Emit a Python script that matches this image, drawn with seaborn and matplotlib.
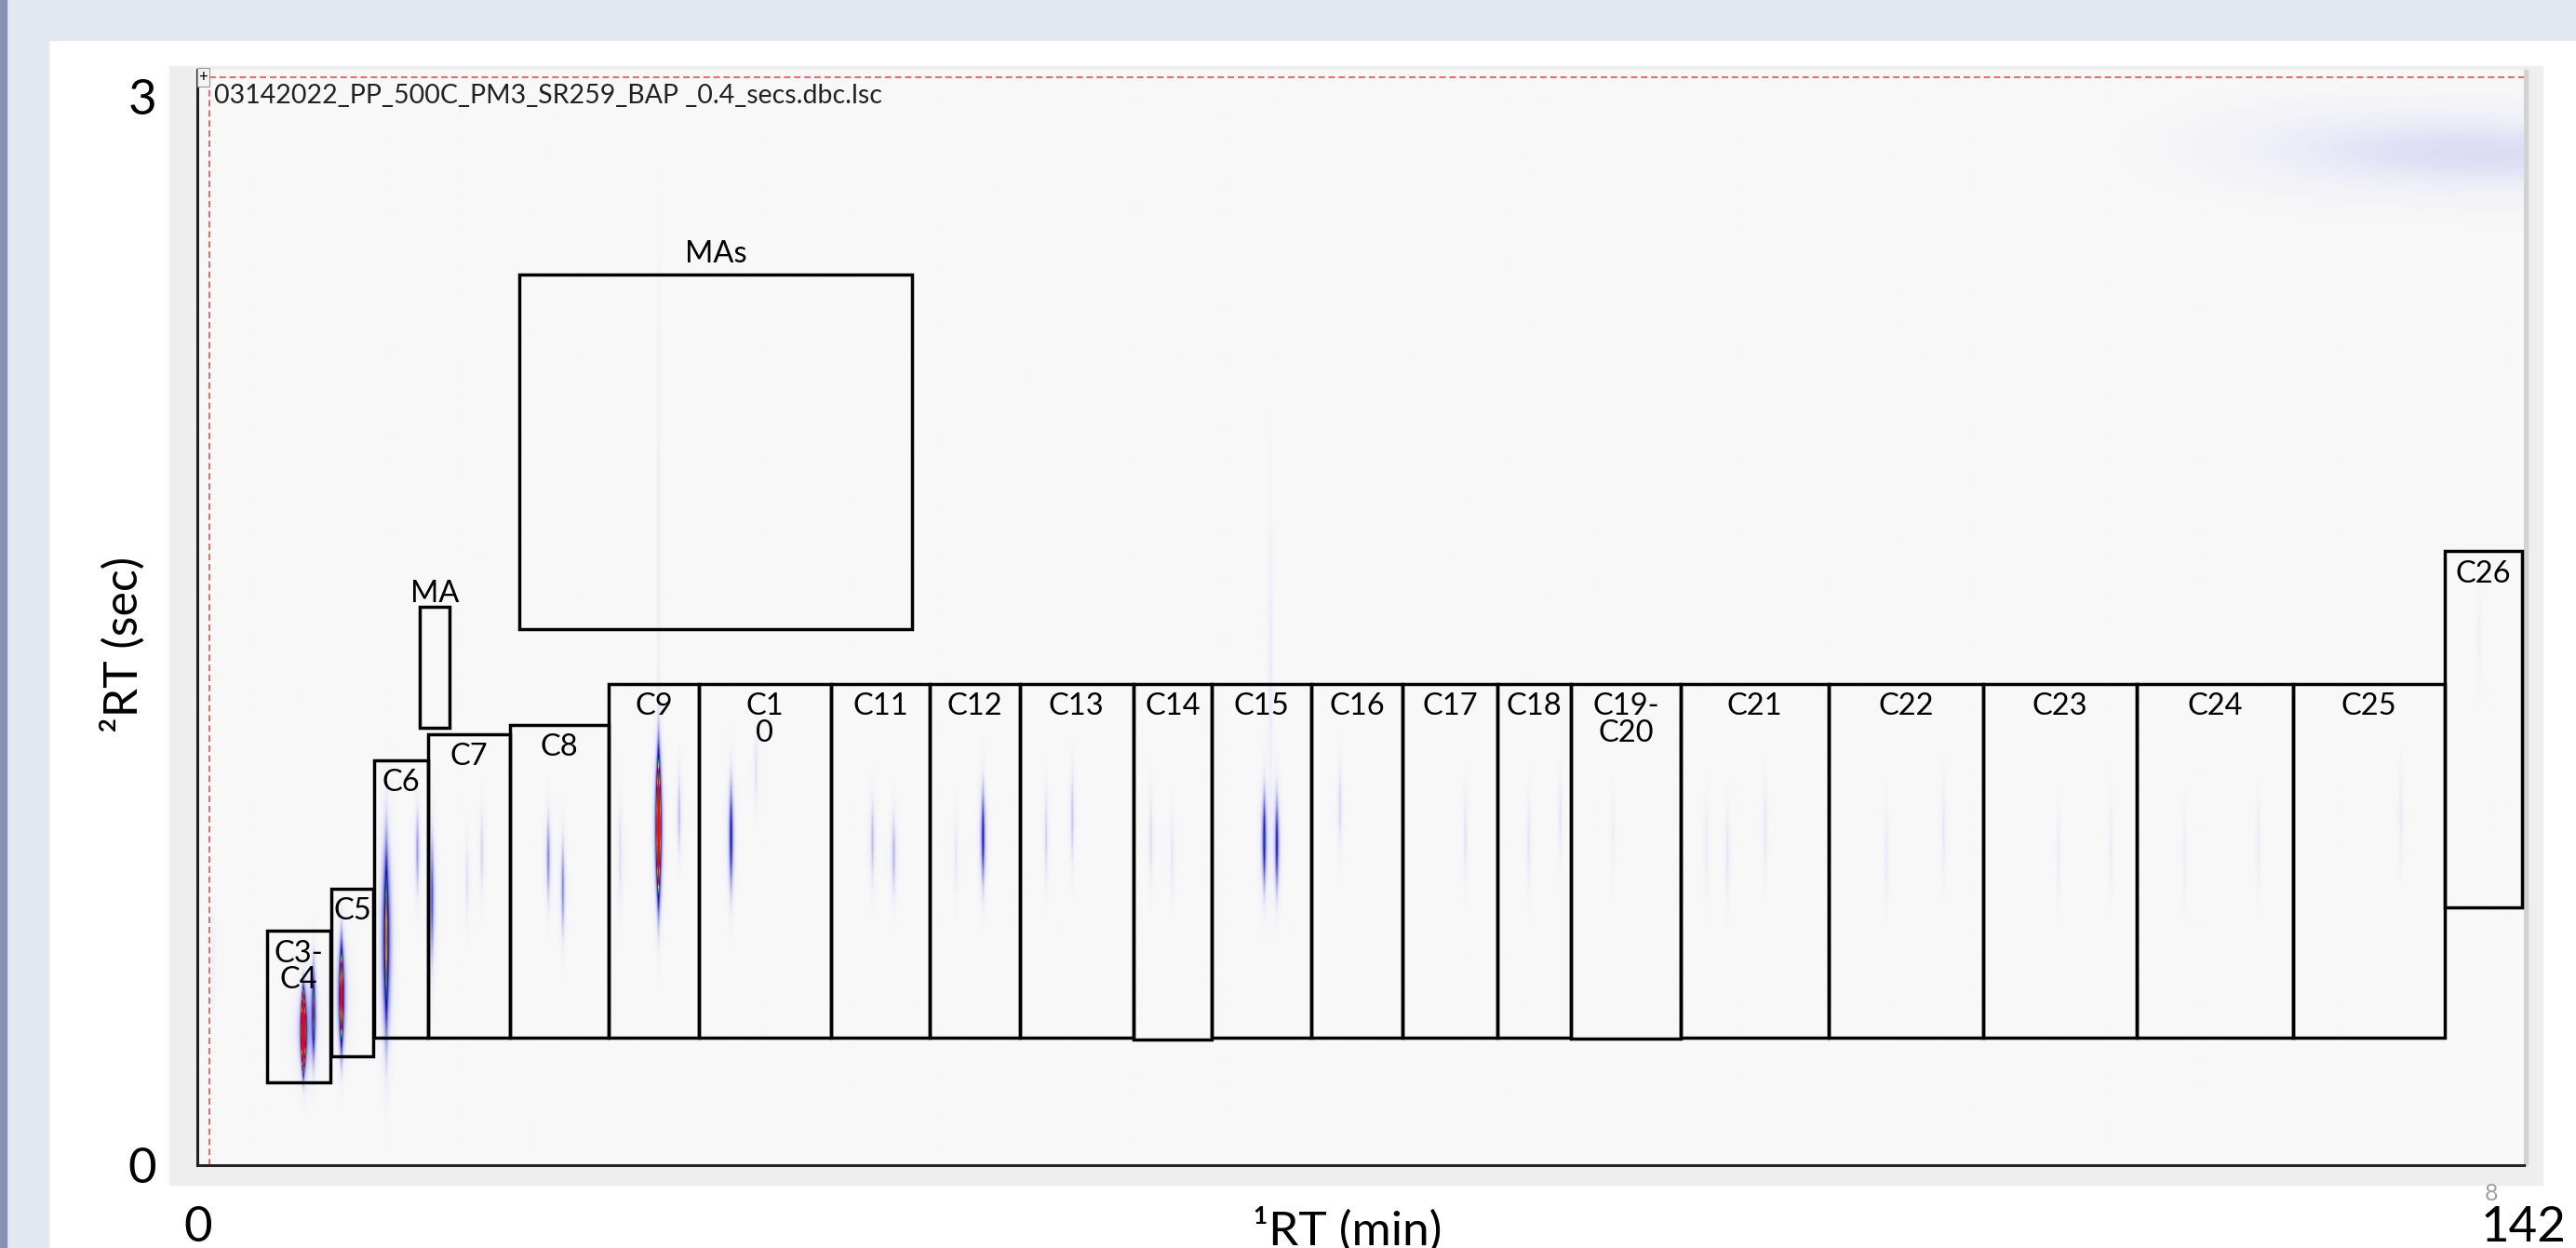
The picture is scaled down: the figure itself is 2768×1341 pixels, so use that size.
import numpy as np
import matplotlib
matplotlib.use("Agg")
import matplotlib.pyplot as plt
from matplotlib.patches import Rectangle
from matplotlib.colors import LinearSegmentedColormap
from matplotlib.transforms import ScaledTranslation
import seaborn as sns

# ---------------- data ----------------
file_name = "03142022_PP_500C_PM3_SR259_BAP _0.4_secs.dbc.lsc"

x_ticks = [0, 25, 50, 75, 100, 125, 142]
x_tick_labels = ["0", "", "", "", "", "", "142"]
y_ticks = [0, 0.5, 1.0, 1.5, 2.0, 2.5, 3.0]
y_tick_labels = ["0", "", "", "", "", "", "3"]

group_labels = ["C3-\nC4", "C5", "C6", "C7", "C8", "C9", "C1\n0", "C11", "C12", "C13",
                "C14", "C15", "C16", "C17", "C18", "C19-\nC20", "C21", "C22", "C23",
                "C24", "C25", "C26"]
group_rt1_start = [4.22, 8.16, 10.76, 14.06, 19.08, 25.09, 30.60, 38.66, 44.70, 50.19,
                   57.11, 61.92, 68.01, 73.58, 79.35, 83.83, 90.56, 99.59, 109.0,
                   118.4, 127.9, 137.2]
group_rt1_end = [8.13, 10.72, 14.06, 19.08, 25.09, 30.60, 38.66, 44.70, 50.19, 57.11,
                 61.92, 68.01, 73.58, 79.35, 83.83, 90.56, 99.59, 109.0, 118.4,
                 127.9, 137.2, 141.9]
group_rt2_low = [0.226, 0.299, 0.348, 0.348, 0.350, 0.348, 0.348, 0.348, 0.348, 0.348,
                 0.345, 0.350, 0.350, 0.350, 0.350, 0.346, 0.348, 0.348, 0.348,
                 0.348, 0.348, 0.707]
group_rt2_high = [0.642, 0.757, 1.110, 1.181, 1.206, 1.319, 1.319, 1.319, 1.319, 1.319,
                  1.319, 1.319, 1.319, 1.319, 1.319, 1.319, 1.319, 1.319, 1.319,
                  1.319, 1.319, 1.681]

ma_labels = ["MA", "MAs"]
ma_rt1_start = [13.56, 19.64]
ma_rt1_end = [15.38, 43.60]
ma_rt2_low = [1.199, 1.467]
ma_rt2_high = [1.530, 2.439]

# chromatogram peaks: 1st dim RT (min), 2nd dim RT (s), relative height, widths
peak_rt1 = [6.45, 6.55, 7.08, 0.95, 8.78, 8.80, 11.52, 13.42, 14.31, 16.45, 17.35,
            21.41, 22.30, 25.8, 28.14, 28.14, 29.40, 32.57, 34.1, 41.2, 42.5, 46.3,
            47.95, 51.8, 53.4, 58.2, 59.5, 65.12, 65.89, 65.5, 69.74, 77.4, 81.27,
            83.19, 86.4, 92.1, 93.4, 95.7, 103.1, 106.6, 113.6, 116.8, 121.3, 125.8,
            134.5, 139.3, 142.0, 131.0]
peak_rt2 = [0.365, 0.37, 0.42, 0.55, 0.46, 0.47, 0.62, 0.86, 0.73, 0.78, 0.86,
            0.84, 0.76, 0.85, 0.926, 1.70, 0.96, 0.90, 1.08, 0.89, 0.85, 0.85,
            0.90, 0.90, 0.95, 0.90, 0.85, 0.89, 0.88, 1.35, 0.98, 0.90, 0.88,
            0.95, 0.90, 0.88, 0.85, 0.92, 0.85, 0.92, 0.85, 0.88, 0.85, 0.88,
            0.95, 1.45, 2.77, 2.79]
peak_height = [6.0, 0.45, 0.75, 0.06, 1.35, 0.30, 1.0, 0.30, 0.45, 0.12, 0.15,
               0.35, 0.35, 0.12, 2.2, 0.07, 0.20, 0.62, 0.12, 0.20, 0.22, 0.10,
               0.58, 0.15, 0.18, 0.12, 0.10, 0.62, 0.58, 0.08, 0.15, 0.10, 0.10,
               0.10, 0.06, 0.08, 0.10, 0.10, 0.09, 0.09, 0.07, 0.07, 0.07, 0.07,
               0.08, 0.05, 0.09, 0.05]
peak_width1 = [0.05, 0.28, 0.10, 0.10, 0.08, 0.25, 0.17, 0.10, 0.12, 0.10, 0.10,
               0.10, 0.10, 0.12, 0.10, 0.08, 0.10, 0.11, 0.10, 0.12, 0.12, 0.10,
               0.11, 0.10, 0.10, 0.10, 0.10, 0.11, 0.11, 0.12, 0.10, 0.10, 0.10,
               0.10, 0.10, 0.10, 0.10, 0.10, 0.10, 0.10, 0.10, 0.10, 0.10, 0.10,
               0.10, 0.10, 7.0, 6.0]
peak_width2 = [0.055, 0.08, 0.085, 0.10, 0.092, 0.10, 0.17, 0.08, 0.12, 0.08, 0.08,
               0.08, 0.09, 0.10, 0.125, 0.45, 0.08, 0.10, 0.07, 0.08, 0.08, 0.08,
               0.09, 0.09, 0.09, 0.09, 0.08, 0.09, 0.09, 0.30, 0.08, 0.09, 0.09,
               0.08, 0.08, 0.09, 0.09, 0.09, 0.09, 0.09, 0.09, 0.09, 0.09, 0.09,
               0.09, 0.10, 0.075, 0.08]

# ---------------- style ----------------
sns.set_theme(style="white")
plt.rcParams['font.family'] = ['Lato', 'DejaVu Sans']

W, H = 2768, 1341
fig = plt.figure(figsize=(W / 100, H / 100), dpi=100)
fig.patch.set_facecolor('white')


def fx(px):
    return px / W


def fy(py):
    return 1 - py / H


# window-like backgrounds
fig.add_artist(Rectangle((0, fy(43)), 1, 1 - fy(43), transform=fig.transFigure,
                         color='#E3E7EF', zorder=-5))
fig.add_artist(Rectangle((0, 0), fx(52), 1, transform=fig.transFigure,
                         color='#E3E7EF', zorder=-5))
fig.add_artist(Rectangle((0, 0), fx(7), 1, transform=fig.transFigure,
                         color='#8391B3', zorder=-4))
fig.add_artist(Rectangle((fx(182), fy(1273)), fx(2732) - fx(182), fy(71) - fy(1273),
                         transform=fig.transFigure, color='#EEEEEE', zorder=-3))
fig.add_artist(Rectangle((fx(2712), fy(1252)), fx(4), fy(75) - fy(1252),
                         transform=fig.transFigure, color='#D2D2D2', zorder=-2))

ax = fig.add_axes([fx(212.4), fy(1252), fx(2711.7) - fx(212.4), fy(75) - fy(1252)])
ax.set_facecolor('#F8F8F8')

# ---------------- chromatogram field ----------------
cmap = LinearSegmentedColormap.from_list(
    "gcxgc",
    [(0.00, '#F8F8F8'), (0.06, '#ECECF8'), (0.15, '#C8C8F0'), (0.30, '#8080E0'),
     (0.45, '#2020D0'), (0.58, '#0000B0'), (0.66, '#00A040'), (0.76, '#E8E800'),
     (0.86, '#FF0000'), (1.00, '#FF0000')])

gx = np.linspace(0, 142, 3551)
gy = np.linspace(0, 3, 751)
Z = np.zeros((gy.size, gx.size))
for x0, y0, h, s1, s2 in zip(peak_rt1, peak_rt2, peak_height, peak_width1, peak_width2):
    if s1 > 2:   # broad background smear
        px = np.exp(-0.5 * ((gx - x0) / s1) ** 2)
    else:        # sharp first-dimension peak
        px = np.exp(-np.abs(gx - x0) / s1)
    Z += h * np.outer(np.exp(-0.5 * ((gy - y0) / s2) ** 2), px)
Z = np.clip(Z, 0, 1)
ax.imshow(Z, extent=[0, 142, 0, 3], origin='lower', aspect='auto', cmap=cmap,
          vmin=0, vmax=1, interpolation='bilinear', zorder=0)

# red dashed limits
ax.plot([0.69, 0.69], [0, 2.979], color='#E07070', lw=1.5, ls=(0, (3.3, 1.9)), zorder=2)
ax.plot([0.69, 142], [2.979, 2.979], color='#E07070', lw=1.5, ls=(0, (3.3, 1.9)), zorder=2,
        clip_on=False)

# group boxes
for lab, x0, x1, y0, y1 in zip(group_labels, group_rt1_start, group_rt1_end,
                               group_rt2_low, group_rt2_high):
    ax.add_patch(Rectangle((x0, y0), x1 - x0, y1 - y0, fill=False, ec='black',
                           lw=2.5, zorder=3, clip_on=False))
    ax.text((x0 + x1) / 2, y1 - 0.024, lab, ha='center', va='top', fontsize=23.5,
            linespacing=0.95, color='black', zorder=4)

for lab, x0, x1, y0, y1, off in zip(ma_labels, ma_rt1_start, ma_rt1_end,
                                    ma_rt2_low, ma_rt2_high, [0.012, 0.033]):
    ax.add_patch(Rectangle((x0, y0), x1 - x0, y1 - y0, fill=False, ec='black',
                           lw=2.5, zorder=3, clip_on=False))
    ax.text((x0 + x1) / 2, y1 + off, lab, ha='center', va='baseline', fontsize=23.5,
            color='black', zorder=4)

# file name
ax.text(0.98, 2.962, file_name, ha='left', va='top', fontsize=20.5, color='#222222',
        zorder=5)
ax.text(0.05, 3.0, "+", ha='left', va='top', fontsize=12, color='black', zorder=6,
        bbox=dict(boxstyle='square,pad=0.1', fc='#F4F4F4', ec='#999999', lw=0.8))

# axes
ax.set_xlim(0, 142)
ax.set_ylim(0, 3)
ax.set_xticks(x_ticks)
ax.set_xticklabels(x_tick_labels)
ax.set_yticks(y_ticks)
ax.set_yticklabels(y_tick_labels)
ax.tick_params(axis='both', direction='out', length=8, width=2.2, color='#222222',
               labelsize=38, labelcolor='black')
ax.tick_params(axis='x', pad=24)
ax.tick_params(axis='y', pad=24)
top_lab = ax.get_yticklabels()[-1]
top_lab.set_va('top')
top_lab.set_transform(top_lab.get_transform() + ScaledTranslation(0, -10 / 100, fig.dpi_scale_trans))
for s in ['top', 'right']:
    ax.spines[s].set_visible(False)
for s in ['left', 'bottom']:
    ax.spines[s].set_color('#222222')
    ax.spines[s].set_linewidth(2.2)
ax.grid(False)

fig.text(fx(1448), fy(1297), "\u00b9RT (min)", ha='center', va='top', fontsize=37,
         color='black')
fig.text(fx(132), fy(692), "\u00b2RT (sec)", ha='center', va='center', rotation=90,
         fontsize=36, color='black')
fig.text(fx(2677), fy(1283), "8", ha='center', va='center', fontsize=18, color='#A0A0A0')

fig.savefig("out.png", dpi=100, facecolor=fig.get_facecolor())
